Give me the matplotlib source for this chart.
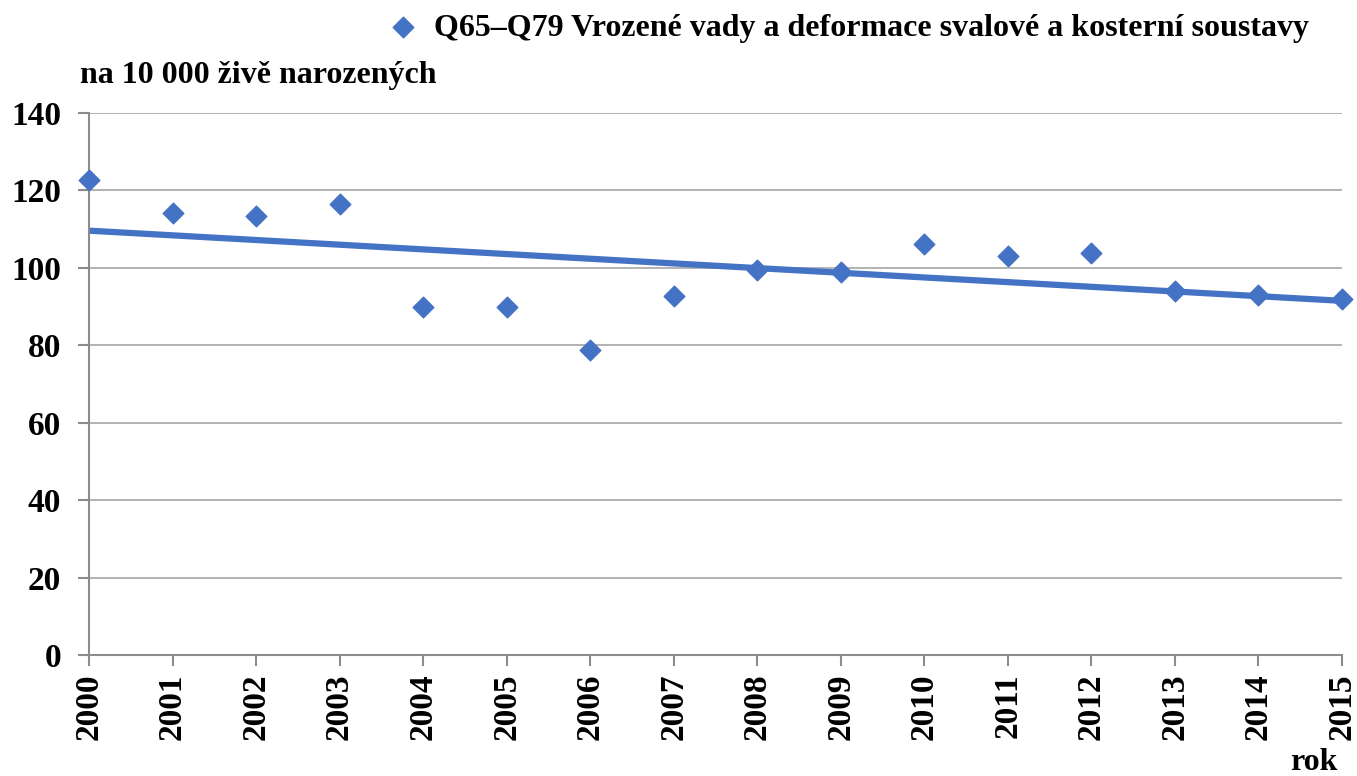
import matplotlib as mpl

mpl.use("Agg")
import matplotlib.pyplot as plt
import numpy as np

years = [2000, 2001, 2002, 2003, 2004, 2005, 2006, 2007,
         2008, 2009, 2010, 2011, 2012, 2013, 2014, 2015]
values = [122.7, 114.2, 113.4, 116.5, 89.9, 89.9, 78.8, 92.7,
          99.5, 98.9, 106.2, 103.1, 103.9, 94.0, 93.0, 92.0]
series_label = "Q65–Q79 Vrozené vady a deformace svalové a kosterní soustavy"
y_label = "na 10 000 živě narozených"
x_label = "rok"

BLUE = "#4472C4"
GRID = "#A6A6A6"
FS = 24
FS_TXT = 23

plt.rcParams["font.family"] = ["Liberation Serif", "DejaVu Serif"]
plt.rcParams["font.weight"] = "bold"

fig = plt.figure(figsize=(13.57, 7.76), dpi=100)
ax = fig.add_axes([89 / 1357, 1 - 655 / 776, (1342 - 89) / 1357, (655 - 113) / 776])

x = np.array(years, dtype=float)
y = np.array(values)
ax.scatter(x, y, marker="D", s=110, color=BLUE, zorder=3, clip_on=False, label=series_label)
# linear trend line
k, b = np.polyfit(x, y, 1)
ax.plot(x, k * x + b, color=BLUE, lw=4.5, zorder=2, solid_capstyle="butt")

ax.set_xlim(2000, 2015)
ax.set_ylim(0, 140)
ax.set_yticks(range(0, 141, 20))
ax.set_xticks(years)
ax.set_xticklabels([str(yr) for yr in years], rotation=90, fontsize=FS, fontweight="bold")
for t in ax.get_yticklabels():
    t.set_fontsize(FS)
    t.set_fontweight("bold")
ax.grid(axis="y", color=GRID, lw=1.2)
ax.set_axisbelow(True)
ax.spines[["top", "right"]].set_visible(False)
for s in ("left", "bottom"):
    ax.spines[s].set_color("#8C8C8C")
    ax.spines[s].set_linewidth(1.5)
ax.tick_params(axis="both", color="#8C8C8C", width=1.5, length=8)
ax.tick_params(axis="y", pad=12)
ax.tick_params(axis="x", pad=5)

fig.text(80 / 1357, 1 - 76 / 776, y_label, fontsize=FS_TXT, fontweight="bold", va="center", ha="left")
fig.text(1338 / 1357, 1 - 762 / 776, x_label, fontsize=FS_TXT, fontweight="bold", va="center", ha="right")

fig.legend(loc="center", bbox_to_anchor=(848 / 1357, 1 - 28 / 776), frameon=False,
           prop={"size": FS_TXT, "weight": "bold"}, handlelength=1.0, handletextpad=0.5,
           markerscale=1.0)

fig.savefig("out.png", dpi=100)
